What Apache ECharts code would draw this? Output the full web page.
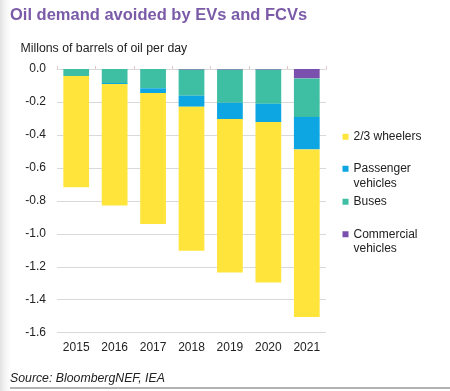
<!DOCTYPE html>
<html>
<head>
<meta charset="utf-8">
<script src="https://cdn.jsdelivr.net/npm/echarts@6/dist/echarts.min.js"></script>
<style>
html,body{margin:0;padding:0;}
body{background:linear-gradient(to right,#e2e2e2 0px,#f4f4f4 5px,#ffffff 11px);}
#c{width:450px;height:391px;}
</style>
</head>
<body>
<div id="c"></div>
<script>
var categories = ['2015','2016','2017','2018','2019','2020','2021'];
var wheelers   = [-0.675, -0.737, -0.795, -0.874, -0.930, -0.973, -1.016];
var passenger  = [0, -0.006, -0.029, -0.067, -0.099, -0.111, -0.197];
var buses      = [-0.0425, -0.085, -0.117, -0.158, -0.201, -0.207, -0.234];
var commercial = [0, 0, 0, -0.004, -0.004, -0.004, -0.057];
var yTicks = {min: -1.6, max: 0, interval: 0.2};

var colors = {
  wheelers: '#FFE53B',
  passenger: '#0DA6E2',
  buses: '#3EBEA3',
  commercial: '#7A4FAD'
};
var txt = '#222222';

var chart = echarts.init(document.getElementById('c'), null, {renderer: 'canvas'});

// square marker aligned with first line of a two-line label (tiny invisible corners set the box)
var twoLineIcon = 'path://M0,0H0.01V0.01H0Z M0,4.25H6V10.25H0Z M0,28.99H0.01V29H0Z';

function legendItem(name, top, twoLine) {
  return {
    data: [name],
    orient: 'vertical',
    left: 342.5,
    top: top,
    padding: 0,
    itemWidth: 6,
    itemHeight: twoLine ? 29 : 6,
    icon: twoLine ? twoLineIcon : 'rect',
    selectedMode: false,
    textStyle: {
      fontFamily: 'Liberation Sans, Arial, sans-serif',
      fontSize: 12,
      color: txt,
      lineHeight: 14.5
    },
    formatter: function (n) { return twoLine ? n.replace(' ', '\n') : n; }
  };
}

chart.setOption({
  animation: false,
  textStyle: {fontFamily: 'Liberation Sans, Arial, sans-serif'},
  title: [
    {
      text: 'Oil demand avoided by EVs and FCVs',
      left: 10, top: 5, padding: 0,
      textStyle: {fontFamily: 'Liberation Sans, Arial, sans-serif', fontSize: 16.5, fontWeight: 'bold', color: '#7B5BA8', lineHeight: 20}
    },
    {
      text: 'Millons of barrels of oil per day',
      left: 20.5, top: 42, padding: 0,
      textStyle: {fontFamily: 'Liberation Sans, Arial, sans-serif', fontSize: 12.3, fontWeight: 'normal', color: txt, lineHeight: 14}
    },
    {
      text: 'Source: BloombergNEF, IEA',
      left: 10, top: 371.5, padding: 0,
      textStyle: {fontFamily: 'Liberation Sans, Arial, sans-serif', fontSize: 12.3, fontStyle: 'italic', fontWeight: 'normal', color: txt, lineHeight: 14}
    }
  ],
  legend: [
    legendItem('2/3 wheelers', 129.5, false),
    legendItem('Passenger vehicles', 161.5, true),
    legendItem('Buses', 194.5, false),
    legendItem('Commercial vehicles', 227, true)
  ],
  grid: {left: 57, right: 124, top: 69, bottom: 58.3, containLabel: false},
  xAxis: [
    {
      type: 'category',
      data: categories,
      position: 'bottom',
      axisLine: {show: false},
      axisTick: {show: false},
      axisLabel: {fontSize: 12, color: txt, margin: 9}
    },
    {
      type: 'category',
      data: categories,
      position: 'top',
      axisLine: {show: true, lineStyle: {color: '#d9d9d9', width: 1}},
      axisTick: {show: true, length: 3, lineStyle: {color: '#dcc6c6'}},
      axisLabel: {show: false}
    }
  ],
  yAxis: {
    type: 'value',
    min: yTicks.min, max: yTicks.max, interval: yTicks.interval,
    axisLine: {show: false},
    axisTick: {show: false},
    splitLine: {show: true, lineStyle: {color: '#d9d9d9', width: 1}},
    axisLabel: {
      fontSize: 12, color: txt, margin: 11,
      formatter: function (v) { return (Math.abs(v) < 1e-9 ? 0 : v).toFixed(1); }
    }
  },
  graphic: [
    {type: 'line', shape: {x1: 10, y1: 388, x2: 450, y2: 388}, style: {stroke: '#666666', lineWidth: 1}}
  ],
  series: [
    {name: 'Commercial vehicles', type: 'bar', stack: 'total', data: commercial, barWidth: '67%', itemStyle: {color: colors.commercial}},
    {name: 'Buses', type: 'bar', stack: 'total', data: buses, barWidth: '67%', itemStyle: {color: colors.buses}},
    {name: 'Passenger vehicles', type: 'bar', stack: 'total', data: passenger, barWidth: '67%', itemStyle: {color: colors.passenger}},
    {name: '2/3 wheelers', type: 'bar', stack: 'total', data: wheelers, barWidth: '67%', itemStyle: {color: colors.wheelers}}
  ]
});
</script>
</body>
</html>
